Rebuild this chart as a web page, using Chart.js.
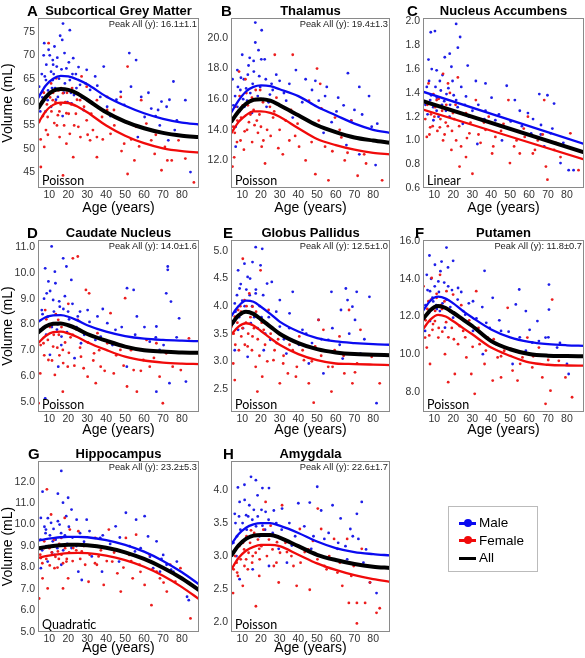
<!DOCTYPE html>
<html>
<head>
<meta charset="utf-8">
<script src="https://cdn.jsdelivr.net/npm/chart.js@4.4.1/dist/chart.umd.min.js"></script>
<style>
html, body { margin:0; padding:0; background:#fff; overflow:hidden; }
#fig { position:relative; width:585px; height:658px; font-family:"Liberation Sans", Arial, sans-serif; }
#fig canvas { position:absolute; }
.lbl { position:absolute; font-weight:bold; font-size:15px; line-height:1; transform:translateY(-50%); }
.ttl { position:absolute; font-weight:bold; font-size:13px; white-space:nowrap; transform:translate(-50%,-50%); }
.peak { position:absolute; font-size:9.3px; white-space:nowrap; color:#222; transform:translate(-100%,-50%); }
.model { position:absolute; font-family:Lato, sans-serif; font-size:12.5px; white-space:nowrap; transform:translateY(-50%); }
#legend { position:absolute; left:448px; top:506px; width:88px; height:64px; border:1px solid #bbb; background:#fff; }
#legend .row { position:absolute; left:30px; font-size:13.5px; line-height:1; transform:translateY(-50%); }
#legend .sw { position:absolute; left:10px; width:17px; height:3px; margin-top:-1.5px; }
#legend .dot { position:absolute; left:4.5px; top:-3px; width:8px; height:8px; border-radius:50%; }
</style>
</head>
<body>
<div id="fig"></div>
<script>
// Subcortical volumes vs age, 8 panels
const AGES = [4, 8, 12, 16, 20, 25, 30, 40, 50, 60, 70, 80, 89];
const X_TICKS = [10, 20, 30, 40, 50, 60, 70, 80];

// A - subcortical grey matter
const scgmMale = [[7.3,72.6],[9.6,71.2],[12.7,71.9],[17.2,76.8],[20.8,75.4],[15.7,74.2],[16.8,73.3],[11.8,69.0],[10.9,66.5],[13.9,67.6],[19,67.2],[22.6,69.4],[8.2,64.7],[6.4,62.2],[9.1,60.4],[14.5,61.1],[20.8,64.7],[26.2,63.7],[29.7,66.9],[34.2,65.5],[28,58.3],[36.9,61.1],[38.7,67.6],[40.5,59.0],[52.2,70.5],[55.8,69.0],[47.7,62.2],[53.1,63.3],[58.5,61.1],[63.8,58.6],[69.2,60.1],[71.9,59.0],[75.5,64.4],[77.3,56.1],[67.4,58.3],[72.8,51.8],[56.7,52.5],[84.5,45.0],[81.8,60.4],[49.5,59.4],[60.3,56.8],[11.8,64.7],[4.6,63.3],[15.4,62.6],[21.7,59.7],[31.5,62.6],[10.9,59.0],[68.3,55.0],[6,66],[7,70],[12,68],[13,63],[18,70.5],[24,66],[8,58],[17,57],[23,61.5],
  [5.2,58],[6.3,61],[7.6,65.5],[8.4,68],[9.3,62.5],[10.2,70],[11.4,63],[12.3,66],[13.5,60.5],[14.2,69.5],[15.1,65],[16.4,67],[17.6,62],[18.2,64],[19.5,60],[20.3,68.5],[21.4,62],[22.2,66],[24.3,63],[25.4,67.5],[27.2,61],[29.1,64],[32.4,60],[35.3,63.5],[42.2,57],[45.4,60.5],[62.3,62],[66.1,57],[73.4,60.5],[76.2,54]];
const scgmFemale = [[9.6,72.6],[5.5,46.1],[7.3,50.4],[8.2,54.0],[10.9,64.0],[13.6,65.1],[17.2,61.9],[19,57.6],[20.8,53.2],[15.4,52.5],[22.6,48.2],[17.2,44.3],[25.3,54.7],[26.2,60.4],[29.7,56.1],[31.5,51.8],[27,65.5],[35.1,52.5],[37.8,56.8],[40.5,58.3],[42.3,53.2],[35.1,48.2],[44.1,58.3],[47.7,61.1],[51.3,67.6],[49.5,51.1],[51.3,44.6],[54.9,47.5],[58.5,60.4],[61.2,55.4],[63.8,51.8],[65.6,48.9],[69.2,45.4],[71.0,50.4],[74.6,47.5],[78.2,51.8],[81.8,47.9],[86.3,42.8],[11.8,60.4],[14.5,57.2],[9.1,56.8],[19,51.1],[40.5,61.1],[29.7,63.3],[55.8,54.7],[4.6,55.8],[35.1,60.4],[12,62],[16,59.5],[22,63],[6,60],[14,55],[24,57.5],[33,54],
  [5.4,52],[6.6,57],[7.1,62],[8.7,59.5],[9.2,53],[10.4,61],[11.1,58],[12.6,55.5],[13.2,60],[14.7,62.5],[15.3,58],[16.2,63],[17.8,55],[18.4,60],[19.3,62],[20.2,57.5],[21.6,59.5],[23.1,55],[24.6,60.5],[26.4,52.5],[28.3,59],[30.2,53],[32.1,57.5],[38.2,52],[44.3,55],[48.1,49.5],[53.2,52],[57.4,50.5],[66.2,53],[72.3,47.5]];
const scgmFitMale   = [60.8, 63.5, 65.0, 65.6, 65.5, 64.8, 63.8, 61.2, 59.2, 57.6, 56.4, 55.6, 55.2];
const scgmFitFemale = [55.4, 58.0, 59.4, 59.9, 59.8, 59.0, 57.8, 55.0, 52.8, 51.2, 50.1, 49.5, 49.2];
const scgmFitAll    = [58.6, 61.0, 62.4, 62.8, 62.6, 61.8, 60.5, 57.8, 55.8, 54.4, 53.4, 52.8, 52.5];
const scgmTicks = [45, 50, 55, 60, 65, 70, 75];

// B - thalamus
const thalMale = [[17,21.0],[20.4,20.5],[17,19.7],[18.7,19.2],[10,18.9],[14,18.7],[16.1,18.5],[7.4,17.9],[4.8,17.3],[10.9,17.3],[19.6,16.8],[25.7,17.0],[30,17.2],[38.7,17.9],[43.9,17.3],[49.1,17.2],[54.3,16.2],[61.3,16.1],[66.5,17.7],[72.6,16.8],[70,15.3],[77.8,16.2],[82.2,14.4],[81.3,11.7],[57.8,14.5],[50.9,15.9],[65.7,13.0],[6.5,14.2],[7.4,15.5],[12.6,15.9],[6.5,12.9],[23,15.5],[33.5,15.9],[37,14.8],[53.5,13.8],[72.6,12.4],[15.2,15.1],[24.8,16.3],[9,16.6],[13,17.6],[22,18.6],
  [5.3,15.6],[6.2,16.2],[7.7,16.8],[8.4,15.2],[9.3,17.4],[10.5,16.0],[11.2,15.5],[12.1,16.7],[13.4,18.2],[14.3,16.4],[15.6,17.0],[16.2,17.8],[18.3,16.2],[19.1,17.5],[20.2,18.6],[21.4,16.0],[22.6,17.3],[24.1,15.8],[26.3,16.6],[28.2,17.6],[32.3,16.4],[35.2,17.0],[42.1,15.8],[47.3,16.6],[55.2,16.8],[60.4,15.2],[64.2,15.6],[68.3,14.6],[74.1,15.0],[79.2,14.2]];
const thalFemale = [[5.7,12.2],[4.8,11.6],[9.1,13.3],[12.6,14.0],[10.9,12.7],[8.3,17.8],[11.7,17.3],[19.6,16.6],[15.2,16.1],[17.8,14.6],[21.3,13.3],[22.2,11.8],[27.4,18.9],[26.5,14.8],[30,14.0],[31.7,12.4],[35.2,13.3],[36.1,15.3],[40.4,12.9],[43.9,12.0],[45.7,15.9],[50,18.0],[51.7,17.0],[50.9,14.6],[54.3,12.9],[56.1,10.7],[49.1,11.1],[59.6,14.8],[63,13.5],[64.8,12.0],[68.3,14.6],[71.7,11.0],[75.2,12.4],[78.7,13.3],[84.8,10.7],[24.8,15.5],[16.1,15.3],[7.4,14.6],[28.3,16.1],[37,18.9],[39.6,14.4],[13,15.6],[20,14.2],[6,13.8],
  [5.2,14.2],[6.4,15.5],[7.2,13.2],[8.6,16.2],[9.4,14.8],[10.3,15.6],[11.3,13.9],[12.2,16.4],[13.6,14.5],[14.4,15.0],[15.3,13.2],[16.6,14.3],[17.2,16.6],[18.4,13.8],[19.2,15.0],[20.4,12.9],[21.1,15.8],[23.3,14.0],[25.2,13.6],[27.1,15.2],[29.3,12.8],[33.2,14.6],[38.3,13.6],[42.2,14.8],[47.1,13.2],[52.3,15.4],[58.2,12.6],[62.1,14.0],[66.3,12.5],[76.2,11.8]];
const thalFitMale   = [15.1, 15.9, 16.5, 16.8, 16.9, 16.85, 16.65, 16.2, 15.5, 14.95, 14.4, 14.0, 13.8];
const thalFitFemale = [13.75, 14.5, 14.95, 15.2, 15.2, 15.1, 14.85, 14.1, 13.4, 13.0, 12.7, 12.5, 12.4];
const thalFitAll    = [14.5, 15.2, 15.7, 15.95, 16.0, 15.9, 15.6, 14.95, 14.3, 13.85, 13.5, 13.3, 13.15];
const thalTicks = [12, 14, 16, 18, 20];

// C - nucleus accumbens (linear fit, two end points)
const naccAges = [4, 89];
const naccMale = [[8.1,1.91],[10.3,1.92],[21.5,1.98],[23.6,1.87],[22.4,1.78],[18.1,1.73],[6.9,1.68],[8.6,1.60],[11.2,1.59],[15.5,1.70],[19,1.62],[27.6,1.63],[12.9,1.50],[6,1.45],[7.8,1.34],[11.2,1.25],[16.4,1.39],[21.5,1.34],[26.7,1.37],[31.9,1.50],[37,1.48],[30.1,1.25],[37,1.25],[42.2,1.17],[48.2,1.46],[52.5,1.34],[55.1,1.25],[59.4,1.23],[65.4,1.39],[69.7,1.38],[73.2,1.31],[66.3,1.13],[61.1,1.06],[71.4,1.06],[76.6,0.81],[80.9,0.75],[83.5,0.75],[45.7,1.0],[25,1.14],[9.5,1.17],[32.7,0.97],[68,0.95],[14,1.3],[18,1.2],
  [5.3,1.30],[6.4,1.22],[7.2,1.50],[8.3,1.38],[9.4,1.28],[10.6,1.45],[11.3,1.36],[12.2,1.20],[13.4,1.42],[14.3,1.55],[15.2,1.33],[16.1,1.25],[17.4,1.44],[18.3,1.30],[19.6,1.50],[20.2,1.38],[22.3,1.28],[24.2,1.45],[26.1,1.30],[28.3,1.20],[33.2,1.30],[36.4,1.18],[40.2,1.36],[44.1,1.22],[50.3,1.16],[56.2,1.12],[62.1,1.18],[66.2,1.05],[72.3,1.10],[78.1,0.98]];
const naccFemale = [[6.9,1.48],[9.5,1.39],[14.6,1.56],[17.2,1.48],[7.8,1.11],[6,1.03],[12.9,1.11],[14.6,1.0],[19,0.92],[21.5,1.0],[24.1,0.95],[26.7,0.86],[28.5,1.06],[26.7,1.23],[31.9,1.34],[30.1,0.72],[34.4,0.98],[37,1.09],[40.5,0.89],[42.2,1.03],[46.5,1.14],[49.1,1.34],[49.9,0.81],[53.4,1.0],[55.1,0.89],[57.7,1.03],[59.4,1.20],[62,0.89],[64.6,1.0],[68.9,0.78],[69.7,0.67],[68,1.34],[73.2,0.92],[76.6,0.86],[81.8,1.06],[86.1,0.75],[23.3,0.78],[11.2,1.34],[19.8,1.23],[22.4,1.53],[38.7,1.20],[10,1.2],[16,1.15],
  [5.2,1.18],[6.3,1.30],[7.4,1.05],[8.2,1.22],[9.1,1.12],[10.4,1.28],[11.6,1.08],[12.3,1.35],[13.2,1.18],[14.1,1.25],[15.4,1.05],[16.3,1.30],[17.1,1.12],[18.2,1.40],[19.3,1.08],[20.4,1.18],[21.2,1.30],[23.1,1.12],[25.3,1.22],[27.2,1.02],[29.1,1.15],[33.3,1.05],[36.2,1.15],[41.1,0.95],[45.2,1.08],[52.1,0.95],[57.2,1.10],[63.1,0.92],[67.2,1.05],[74.1,0.98]];
const naccFitMale   = [1.41, 0.97];
const naccFitFemale = [1.26, 0.84];
const naccFitAll    = [1.33, 0.90];
const naccTicks = [0.6, 0.8, 1.0, 1.2, 1.4, 1.6, 1.8, 2.0];

// D - caudate nucleus
const caudMale = [[11.2,11.03],[7.8,10.18],[17.3,10.57],[19,10.25],[12.9,10.05],[21.6,9.73],[9.5,9.67],[8.6,9.21],[12,8.95],[15.5,8.69],[6,8.56],[19.9,8.50],[25,8.31],[30.2,8.56],[35.4,8.31],[40.6,8.05],[44.9,7.79],[51,9.41],[54.5,9.34],[56.2,8.31],[63,7.33],[66.5,7.92],[68.2,7.01],[71.7,9.21],[72.5,10.25],[72.5,10.12],[74.2,8.89],[78.5,8.24],[66.5,5.39],[73.4,5.72],[82.1,5.78],[10.3,6.82],[14.7,6.36],[7.8,5.13],[26.7,7.27],[37.1,7.53],[57.9,7.01],[23.3,6.69],[16.4,7.53],[50.9,6.36],[10,8.0],[14,7.8],
  [5.3,7.8],[6.4,8.4],[7.2,9.0],[8.3,7.6],[9.1,8.3],[10.4,9.3],[11.3,7.9],[12.4,8.5],[13.2,9.6],[14.4,8.0],[15.2,8.9],[16.3,7.2],[17.4,8.6],[18.2,9.1],[19.3,7.7],[20.4,8.2],[22.2,8.8],[24.3,7.9],[26.2,8.5],[28.4,7.6],[31.2,8.1],[34.3,7.4],[38.2,8.6],[43.3,7.2],[48.2,7.9],[55.3,7.6],[60.2,7.9],[66.2,7.5],[70.3,7.2],[77.2,7.5]];
const caudFemale = [[22.4,10.57],[25,10.64],[7.8,8.56],[11.2,7.98],[14.7,8.18],[6.9,7.27],[9.5,6.62],[12.9,6.04],[12,7.14],[17.1,7.01],[19.7,6.36],[17.1,5.39],[22.4,7.59],[26.7,6.75],[29.3,9.34],[31,9.21],[30.2,5.97],[33.6,6.88],[34.5,5.72],[37.1,6.36],[40.6,7.27],[42.3,8.44],[44,6.10],[47.5,7.01],[50,9.02],[51,5.59],[54.5,6.23],[56.2,5.39],[59.6,6.62],[63,6.36],[66.5,7.27],[68.2,5.97],[69.9,4.94],[71.7,6.88],[75.1,6.36],[79.4,6.23],[83.7,7.46],[5.2,6.10],[4.3,4.94],[25,8.18],[35.4,7.66],[61.3,7.40],[15,7.6],[20,8.8],
  [5.4,7.2],[6.2,7.8],[7.3,6.8],[8.4,8.2],[9.2,7.4],[10.3,7.9],[11.4,6.6],[12.3,7.6],[13.4,8.4],[14.2,7.1],[15.3,6.8],[16.4,7.9],[17.3,6.5],[18.3,7.3],[19.4,8.0],[20.3,6.9],[21.2,7.5],[23.2,6.4],[24.3,7.8],[26.2,7.1],[28.1,6.3],[30.4,7.3],[33.2,6.6],[36.3,7.0],[39.2,6.2],[45.3,6.8],[49.2,6.4],[53.1,7.0],[58.3,6.2],[65.2,6.7]];
const caudFitMale   = [8.1, 8.28, 8.35, 8.36, 8.3, 8.15, 7.97, 7.72, 7.55, 7.45, 7.4, 7.37, 7.35];
const caudFitFemale = [7.27, 7.55, 7.7, 7.72, 7.65, 7.5, 7.31, 7.01, 6.75, 6.6, 6.52, 6.48, 6.46];
const caudFitAll    = [7.68, 7.92, 8.03, 8.04, 7.97, 7.82, 7.63, 7.37, 7.14, 7.0, 6.95, 6.91, 6.9];
const caudTicks = [5, 6, 7, 8, 9, 10, 11];

// E - globus pallidus
const gpMale = [[17.2,5.07],[20.7,5.04],[15.5,4.80],[11.2,4.77],[7.8,4.65],[19.8,4.74],[12.9,4.53],[8.6,4.32],[23.3,4.41],[25.8,4.44],[17.2,4.23],[6,4.05],[30.1,4.11],[37,4.26],[9.5,3.87],[14.6,3.69],[7.8,3.57],[6,3.20],[12.9,3.08],[21.5,3.20],[25,3.39],[30.1,3.63],[35.3,3.87],[42.2,3.57],[47.3,3.33],[50.8,3.75],[56,3.39],[57.7,4.26],[62.8,3.93],[65.4,4.32],[68.9,3.99],[66.3,4.11],[71.2,4.26],[70.3,3.75],[78,4.17],[73.2,3.14],[63.7,3.05],[81.8,2.24],[45.6,2.96],[53.4,2.78],[33.6,3.14],[10,4.1],[14,4.2],
  [5.3,3.7],[6.4,3.9],[7.2,4.2],[8.3,3.8],[9.2,4.4],[10.4,3.6],[11.3,4.0],[12.2,4.3],[13.4,3.9],[14.2,4.5],[15.3,4.0],[16.4,3.8],[17.3,4.3],[18.2,3.6],[19.4,4.0],[20.3,3.8],[21.2,4.2],[22.3,3.5],[24.2,3.8],[26.3,3.6],[28.2,3.9],[32.3,3.4],[35.2,3.6],[40.3,3.3],[44.2,3.5],[52.3,3.4],[58.2,3.6],[62.1,3.3],[67.2,3.5],[75.3,3.4]];
const gpFemale = [[10.3,4.86],[19.8,4.65],[13.8,4.23],[11.2,4.11],[6,3.81],[4.3,3.63],[5.2,2.96],[6,2.66],[9.5,3.45],[12.9,3.27],[15.5,3.45],[17.2,2.90],[18.1,2.45],[20.7,2.72],[21.5,3.57],[24.1,3.93],[26.7,3.02],[28.4,3.33],[30.1,2.60],[31.9,2.96],[34.4,2.78],[37,3.20],[38.7,2.72],[40.5,3.45],[43,3.02],[45.6,2.60],[48.2,2.25],[49,3.27],[50.8,3.75],[53.4,3.57],[56,2.90],[57.7,2.45],[59.4,3.20],[62,3.45],[64.6,2.78],[67.1,3.93],[68.9,2.60],[71.4,2.96],[73.2,3.57],[79.2,3.08],[83.5,2.60],[7.8,3.93],[15.5,3.99],[12,3.7],[9,4.0],
  [5.4,3.5],[6.3,3.3],[7.4,3.7],[8.2,3.2],[9.3,3.9],[10.2,3.6],[11.4,3.3],[12.3,4.0],[13.2,3.5],[14.4,3.8],[15.2,3.2],[16.3,3.6],[17.4,3.9],[18.3,3.4],[19.2,3.1],[20.4,3.7],[22.2,3.3],[23.4,3.0],[25.2,3.5],[27.3,3.2],[29.2,3.4],[32.1,3.1],[35.3,3.3],[39.2,2.9],[42.3,3.2],[47.2,3.0],[52.2,3.1],[58.3,2.9],[64.2,3.1],[70.3,2.8]];
const gpFitMale   = [3.81, 4.0, 4.1, 4.08, 3.99, 3.86, 3.72, 3.54, 3.42, 3.36, 3.33, 3.31, 3.3];
const gpFitFemale = [3.48, 3.63, 3.69, 3.65, 3.55, 3.42, 3.3, 3.13, 3.02, 2.96, 2.95, 2.94, 2.93];
const gpFitAll    = [3.66, 3.83, 3.9, 3.86, 3.76, 3.63, 3.5, 3.33, 3.22, 3.16, 3.13, 3.12, 3.11];
const gpTicks = [2.5, 3.0, 3.5, 4.0, 4.5, 5.0];

// F - putamen
const putMale = [[16.4,15.65],[7.4,15.23],[13.8,14.91],[10.3,14.74],[19.9,14.95],[6,14.21],[12.1,13.86],[17.3,13.6],[7.7,13.34],[22.5,13.51],[36.5,14.42],[40.8,12.99],[54.8,13.43],[53,12.64],[58.3,12.29],[70.5,13.69],[70.5,12.37],[64.4,11.76],[68.7,10.89],[74.8,10.36],[80,9.49],[80.9,8.96],[51.3,9.49],[42.6,10.54],[35.6,10.01],[30.4,11.24],[25.2,12.29],[12.9,12.29],[7.7,11.76],[5.1,11.24],[15.6,11.41],[19.9,11.94],[45.2,11.24],[58.3,10.19],[61.7,10.62],[37.4,11.67],[30.4,12.81],[9,13.0],[11,12.6],
  [5.3,12.6],[6.4,13.4],[7.2,12.2],[8.3,14.0],[9.4,12.8],[10.2,13.6],[11.3,12.4],[12.4,13.3],[13.2,14.4],[14.3,12.7],[15.2,13.8],[16.3,12.9],[17.2,14.6],[18.4,12.5],[19.3,13.4],[20.2,12.2],[22.3,12.9],[24.2,13.3],[26.3,12.1],[28.2,12.7],[32.2,11.9],[35.3,12.5],[39.2,11.4],[44.3,11.8],[49.2,11.2],[55.1,10.9],[60.3,11.3],[65.2,10.7],[70.2,10.9],[76.3,10.6]];
const putFemale = [[4.3,13.6],[6.9,12.81],[11.2,12.99],[16.4,13.34],[19.9,13.16],[13,14.21],[8.6,14.04],[6,10.36],[7.7,9.49],[12.1,10.89],[15.6,10.01],[17.3,8.53],[20.8,8.96],[22.5,10.54],[25.2,11.24],[26.9,9.84],[29.5,8.96],[31.3,7.91],[32.1,13.34],[33.9,10.54],[36.5,9.49],[38.2,10.89],[40.8,8.61],[43.4,9.84],[45.2,8.78],[46.9,10.19],[48.7,12.46],[51.3,9.14],[53.9,8.61],[56.5,9.84],[59.1,10.89],[61.7,9.31],[65.2,10.36],[67,8.78],[68.7,7.38],[71.3,8.08],[72.2,12.9],[75.7,9.66],[79.2,8.78],[82.7,7.73],[5.1,10.89],[18.2,12.29],[10.3,11.76],[14,12.4],[9,11.3],
  [5.4,11.8],[6.3,12.4],[7.3,11.0],[8.2,12.9],[9.3,11.6],[10.4,12.3],[11.2,13.2],[12.3,11.4],[13.4,12.6],[14.2,11.2],[15.3,12.8],[16.2,11.7],[17.4,10.9],[18.3,12.3],[19.2,11.4],[20.3,10.8],[21.2,12.1],[23.3,11.5],[24.2,12.6],[26.3,10.9],[28.4,11.8],[30.2,10.4],[33.3,11.4],[37.2,10.2],[41.3,10.8],[45.2,9.9],[50.1,10.3],[55.3,9.5],[62.2,9.9],[70.1,9.7]];
const putFitMale   = [12.3, 12.85, 13.05, 12.95, 12.7, 12.3, 11.95, 11.32, 10.9, 10.66, 10.54, 10.48, 10.45];
const putFitFemale = [11.33, 11.85, 12.09, 12.0, 11.75, 11.4, 11.06, 10.36, 9.92, 9.57, 9.45, 9.41, 9.4];
const putFitAll    = [11.86, 12.35, 12.56, 12.45, 12.2, 11.85, 11.5, 10.7, 10.27, 10.02, 9.93, 9.91, 9.9];
const putTicks = [8, 10, 12, 14, 16];

// G - hippocampus (quadratic fit)
const hippMale = [[16.3,12.5],[6.4,11.53],[14.5,11.44],[19.9,11.25],[17.2,11.02],[21.7,10.7],[5.5,10.31],[10.9,10.08],[8.2,9.77],[14.5,10.16],[18.9,10.39],[24.4,10.23],[29.7,10.23],[36.9,9.38],[45,9.92],[50.4,10.55],[55.8,10.23],[60.3,10.39],[62.1,9.45],[66.6,9.22],[55.2,8.75],[46.8,8.28],[70.1,8.59],[71.9,8.13],[75.5,7.81],[77.3,8.28],[82.7,6.64],[83.6,6.48],[5.5,7.97],[9.1,8.28],[12.7,8.59],[16.3,8.13],[21.7,8.91],[25.3,7.81],[27.1,7.42],[32.4,8.52],[37.8,7.81],[64.8,7.97],[68.4,7.81],[40.5,8.91],[11.8,9.22],[8,9.6],[13,9.0],
  [5.3,9.3],[6.2,8.8],[7.4,9.9],[8.3,9.0],[9.2,10.3],[10.3,9.5],[11.4,8.7],[12.2,9.8],[13.3,9.3],[14.2,8.9],[15.4,10.0],[16.2,9.6],[17.3,8.8],[18.2,9.5],[19.4,9.1],[20.3,9.9],[22.2,9.4],[24.3,9.0],[26.2,9.6],[28.3,9.2],[31.2,9.7],[34.3,9.0],[38.2,9.5],[42.1,9.1],[47.2,9.4],[52.3,9.0],[58.2,8.9],[63.1,8.5],[69.2,8.4],[74.3,7.9]];
const hippFemale = [[8.7,11.64],[4.6,6.56],[5.5,8.44],[6.4,7.5],[7.3,9.22],[9.1,7.03],[10.9,10.47],[12.7,7.97],[14.5,8.75],[16.3,9.38],[18.1,10.31],[19,8.28],[19.9,7.5],[17.2,7.03],[22.6,8.91],[25.3,9.69],[27.1,8.75],[28.9,8.13],[30.7,7.34],[34.2,9.38],[36,8.52],[38.7,7.19],[41.4,9.77],[43.2,8.28],[45.9,7.73],[47.7,6.88],[50.4,9.38],[52.2,8.59],[54,7.5],[55.8,9.53],[57.6,8.13],[60.3,7.19],[63,8.59],[63.9,6.25],[66.6,7.81],[68.4,7.5],[72,6.88],[73.8,8.13],[76.5,7.34],[79.2,7.97],[84.5,5.63],[35.1,8.13],[20.8,9.77],[10,8.9],[15,8.4],
  [5.2,8.6],[6.3,8.2],[7.2,8.9],[8.4,8.4],[9.3,9.0],[10.2,8.1],[11.3,8.7],[12.4,9.3],[13.2,8.5],[14.3,8.0],[15.2,9.1],[16.4,8.6],[17.2,8.2],[18.3,8.9],[19.2,8.4],[20.4,8.7],[22.3,8.3],[24.2,8.8],[26.3,8.4],[28.2,9.0],[31.3,8.6],[34.1,8.2],[37.2,8.8],[40.3,8.3],[44.2,8.7],[49.1,8.0],[53.2,8.3],[58.1,7.8],[64.2,7.9],[70.3,7.3]];
const hippFitMale   = [9.25, 9.32, 9.37, 9.41, 9.43, 9.43, 9.41, 9.28, 9.06, 8.74, 8.31, 7.78, 7.22];
const hippFitFemale = [8.45, 8.53, 8.59, 8.64, 8.67, 8.68, 8.67, 8.56, 8.35, 8.04, 7.62, 7.09, 6.53];
const hippFitAll    = [8.89, 8.95, 9.0, 9.04, 9.06, 9.06, 9.04, 8.92, 8.71, 8.40, 7.99, 7.49, 6.95];
const hippTicks = [5, 6, 7, 8, 9, 10, 11, 12];

// H - amygdala
const amygMale = [[14.7,4.20],[11.2,4.08],[7.7,4.04],[17.3,4.15],[20.8,4.03],[24.3,4.03],[18.2,3.92],[13.8,3.77],[8.6,3.82],[6,3.64],[12.1,3.62],[22.5,3.67],[26.9,3.69],[31.3,3.72],[40,3.8],[46.1,3.81],[50.1,4.05],[52.2,3.69],[58.3,3.77],[62.6,3.57],[67.8,3.41],[71.3,3.64],[73.9,3.82],[72.1,3.26],[66.1,2.95],[74.8,2.9],[78.3,2.6],[81.8,2.44],[53.9,3.26],[46.9,3.11],[36.5,3.16],[29.5,3.11],[24.3,2.85],[15.6,2.8],[8.6,2.65],[6.9,3.0],[10.3,3.21],[17.6,3.31],[33.9,2.9],[60.9,3.11],[20.8,3.46],[9,3.4],
  [5.3,3.2],[6.4,3.5],[7.2,3.3],[8.3,3.6],[9.4,3.2],[10.2,3.5],[11.3,3.85],[12.4,3.4],[13.2,3.6],[14.3,3.3],[15.4,3.55],[16.2,3.7],[17.4,3.45],[18.3,3.6],[19.2,3.3],[20.3,3.7],[22.2,3.4],[24.1,3.55],[26.3,3.35],[28.2,3.5],[31.1,3.4],[35.2,3.5],[38.3,3.3],[43.2,3.45],[48.1,3.3],[56.2,3.35],[61.3,3.2],[65.2,3.15],[69.1,3.3],[76.2,3.1]];
const amygFemale = [[5.1,2.44],[7.7,2.7],[10.3,2.55],[13,2.8],[15.6,3.0],[19.1,3.11],[17.3,2.24],[21.7,3.31],[22.5,3.82],[25.2,3.46],[26.9,2.85],[28.6,3.21],[29.5,2.6],[31.3,3.77],[33.9,3.06],[37.4,2.85],[39.1,2.55],[40.8,3.41],[43.4,3.06],[46.1,2.49],[47.8,3.23],[50.4,3.72],[52.2,3.41],[53.9,2.85],[56.5,3.0],[59.1,3.26],[60.9,2.75],[63.5,2.55],[66.1,3.26],[67,2.29],[69.6,2.85],[71.3,2.29],[73.9,3.11],[75.7,2.29],[78.3,2.6],[71.3,1.98],[81.8,2.14],[83.5,2.21],[12.1,2.95],[19.1,2.7],[14.7,3.39],[7,2.9],[11,3.1],
  [5.4,2.8],[6.2,3.0],[7.3,2.75],[8.4,3.15],[9.2,2.95],[10.4,3.2],[11.2,2.85],[12.3,3.3],[13.4,3.05],[14.2,3.2],[15.3,2.9],[16.4,3.35],[17.2,3.05],[18.4,3.25],[19.3,2.95],[20.2,3.15],[21.3,3.4],[23.2,3.0],[24.3,3.25],[26.2,3.1],[28.3,2.9],[30.2,3.05],[33.1,3.2],[36.3,3.0],[41.2,2.9],[45.3,3.1],[50.2,2.95],[55.1,2.8],[62.2,2.9],[68.3,2.7]];
const amygFitMale   = [3.17, 3.33, 3.43, 3.48, 3.5, 3.5, 3.46, 3.35, 3.22, 3.12, 3.06, 3.03, 3.01];
const amygFitFemale = [2.79, 2.97, 3.08, 3.14, 3.17, 3.17, 3.15, 3.02, 2.89, 2.79, 2.71, 2.65, 2.61];
const amygFitAll    = [3.0, 3.16, 3.26, 3.31, 3.32, 3.32, 3.28, 3.15, 3.02, 2.94, 2.88, 2.84, 2.82];
const amygTicks = [2.0, 2.5, 3.0, 3.5, 4.0];

const panels = [
  { letter:'A', title:'Subcortical Grey Matter', peak:'Peak All (y): 16.1\u00b11.1', model:'Poisson', ages:AGES, male:scgmMale, female:scgmFemale, fitM:scgmFitMale, fitF:scgmFitFemale, fitA:scgmFitAll, ticks:scgmTicks, yMin:41.6, yMax:78, dec:0 },
  { letter:'B', title:'Thalamus', peak:'Peak All (y): 19.4\u00b11.3', model:'Poisson', ages:AGES, male:thalMale, female:thalFemale, fitM:thalFitMale, fitF:thalFitFemale, fitA:thalFitAll, ticks:thalTicks, yMin:10.2, yMax:21.3, dec:1 },
  { letter:'C', title:'Nucleus Accumbens', peak:'', model:'Linear', ages:naccAges, male:naccMale, female:naccFemale, fitM:naccFitMale, fitF:naccFitFemale, fitA:naccFitAll, ticks:naccTicks, yMin:0.6, yMax:2.03, dec:1 },
  { letter:'D', title:'Caudate Nucleus', peak:'Peak All (y): 14.0\u00b11.6', model:'Poisson', ages:AGES, male:caudMale, female:caudFemale, fitM:caudFitMale, fitF:caudFitFemale, fitA:caudFitAll, ticks:caudTicks, yMin:4.6, yMax:11.28, dec:1 },
  { letter:'E', title:'Globus Pallidus', peak:'Peak All (y): 12.5\u00b11.0', model:'Poisson', ages:AGES, male:gpMale, female:gpFemale, fitM:gpFitMale, fitF:gpFitFemale, fitA:gpFitAll, ticks:gpTicks, yMin:2.08, yMax:5.2, dec:1 },
  { letter:'F', title:'Putamen', peak:'Peak All (y): 11.8\u00b10.7', model:'Poisson', ages:AGES, male:putMale, female:putFemale, fitM:putFitMale, fitF:putFitFemale, fitA:putFitAll, ticks:putTicks, yMin:6.95, yMax:16.05, dec:1 },
  { letter:'G', title:'Hippocampus', peak:'Peak All (y): 23.2\u00b15.3', model:'Quadratic', ages:AGES, male:hippMale, female:hippFemale, fitM:hippFitMale, fitF:hippFitFemale, fitA:hippFitAll, ticks:hippTicks, yMin:5.0, yMax:12.96, dec:1 },
  { letter:'H', title:'Amygdala', peak:'Peak All (y): 22.6\u00b11.7', model:'Poisson', ages:AGES, male:amygMale, female:amygFemale, fitM:amygFitMale, fitF:amygFitFemale, fitA:amygFitAll, ticks:amygTicks, yMin:1.85, yMax:4.44, dec:1 }
];

// plot-area geometry per column / row, panel letter x positions
const COLS = [ {px:38, pw:161, yw:38}, {px:231, pw:159, yw:30}, {px:423, pw:161, yw:31} ];
const ROWS = [ {py:18, ph:170, ty:10, tpad:1.6}, {py:240, ph:172, ty:232, tpad:3.6}, {py:461, ph:171, ty:453, tpad:5.6} ];
const LETTER_X = [27, 221, 407, 27, 223, 415, 28, 223];
const TOP_PAD = 12;

const BLUE = '#0a0af0', RED = '#f00a0a';
const BLUE_PT = '#1e1ee8', RED_PT = '#ec1e1e';
const fig = document.getElementById('fig');

const boxPlugin = {
  id: 'box',
  afterDraw(c) {
    const a = c.chartArea, ctx = c.ctx;
    ctx.save();
    ctx.strokeStyle = '#8a8a8a';
    ctx.lineWidth = 1;
    ctx.strokeRect(a.left + 0.5, a.top + 0.5, a.right - a.left - 1, a.bottom - a.top - 1);
    ctx.restore();
  }
};

const pts = arr => arr.map(p => ({x:p[0], y:p[1]}));
const curve = (ages, vals) => ages.map((a, i) => ({x:a, y:vals[i]}));

function addDiv(cls, text, x, y) {
  const d = document.createElement('div');
  d.className = cls; d.textContent = text;
  d.style.left = x + 'px'; d.style.top = y + 'px';
  fig.appendChild(d);
}

panels.forEach((p, i) => {
  const col = COLS[i % 3], row = ROWS[Math.floor(i / 3)];
  const w = col.yw + col.pw + 2, h = TOP_PAD + row.ph + 30;
  const cv = document.createElement('canvas');
  cv.width = w; cv.height = h;
  cv.style.left = (col.px - col.yw) + 'px';
  cv.style.top = (row.py - TOP_PAD) + 'px';
  cv.style.width = w + 'px'; cv.style.height = h + 'px';
  fig.appendChild(cv);

  const lineDs = (vals, color, width) => ({
    data: curve(p.ages, vals), showLine: true, borderColor: color, borderWidth: width,
    pointRadius: 0, cubicInterpolationMode: 'monotone', fill: false
  });
  const ptDs = (arr, color) => ({
    data: pts(arr), backgroundColor: color, borderWidth: 0, pointRadius: 1.4, pointHoverRadius: 0
  });

  new Chart(cv, {
    type: 'scatter',
    data: { datasets: [
      lineDs(p.fitA, '#000', 4),
      lineDs(p.fitM, BLUE, 2.3),
      lineDs(p.fitF, RED, 2.3),
      ptDs(p.female, RED_PT),
      ptDs(p.male, BLUE_PT)
    ]},
    options: {
      responsive: false, animation: false, devicePixelRatio: 1,
      layout: { padding: { top:TOP_PAD, right:2, left:0, bottom:0 } },
      plugins: { legend: { display:false }, tooltip: { enabled:false } },
      scales: {
        x: {
          type: 'linear', min: 4, max: 89,
          afterFit: s => { s.height = 30; },
          afterBuildTicks: s => { s.ticks = X_TICKS.map(v => ({value:v})); },
          grid: { display:false, drawTicks:false }, border: { display:false },
          ticks: { color:'#333', font:{ family:'Liberation Sans', size:10.5 }, padding:1, maxRotation:0, autoSkip:false },
          title: { display:true, text:'Age (years)', color:'#000', font:{ family:'Liberation Sans', size:14 }, padding:{ top:0, bottom:row.tpad } }
        },
        y: {
          type: 'linear', min: p.yMin, max: p.yMax,
          afterFit: s => { s.width = col.yw; },
          afterBuildTicks: s => { s.ticks = p.ticks.map(v => ({value:v})); },
          grid: { display:false, drawTicks:false }, border: { display:false },
          ticks: { color:'#333', font:{ family:'Liberation Sans', size:10.5 }, padding:3, autoSkip:false,
                   callback: v => Number(v).toFixed(p.dec) },
          title: { display: i % 3 === 0, text:'Volume (mL)', color:'#000', font:{ family:'Liberation Sans', size:14 }, padding:{ top:0, bottom:0 } }
        }
      }
    },
    plugins: [boxPlugin]
  });

  addDiv('lbl', p.letter, LETTER_X[i], row.ty);
  addDiv('ttl', p.title, col.px + col.pw / 2, row.ty);
  if (p.peak) addDiv('peak', p.peak, col.px + col.pw - 2, row.py + 6);
  addDiv('model', p.model, col.px + 4, row.py + row.ph - 8);
});

// legend
const legend = document.createElement('div');
legend.id = 'legend';
[['Male', BLUE, true], ['Female', RED, true], ['All', '#000', false]].forEach((e, k) => {
  const y = 16 + k * 17.5;
  const sw = document.createElement('div');
  sw.className = 'sw'; sw.style.top = y + 'px'; sw.style.background = e[1];
  if (e[2]) { const d = document.createElement('div'); d.className = 'dot'; d.style.background = e[1]; sw.appendChild(d); }
  legend.appendChild(sw);
  const t = document.createElement('div');
  t.className = 'row'; t.style.top = y + 'px'; t.textContent = e[0];
  legend.appendChild(t);
});
fig.appendChild(legend);
</script>
</body>
</html>
